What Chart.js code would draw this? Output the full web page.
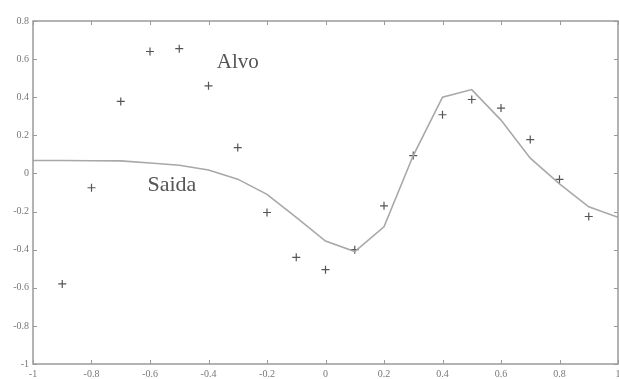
<!DOCTYPE html>
<html>
<head>
<meta charset="utf-8">
<script src="https://cdn.jsdelivr.net/npm/chart.js@4"></script>
<style>
  html, body { margin: 0; padding: 0; background: #fff; }
  #wrap { width: 619px; height: 379px; }
</style>
</head>
<body>
<div id="wrap"><canvas id="plot"></canvas></div>
<script>
// x positions of the samples
const xs = [-1, -0.9, -0.8, -0.7, -0.6, -0.5, -0.4, -0.3, -0.2, -0.1, 0,
            0.1, 0.2, 0.3, 0.4, 0.5, 0.6, 0.7, 0.8, 0.9, 1];

// target samples (Alvo), -0.9 .. 0.9
const alvoX = xs.slice(1, 20);
const alvoY = [-0.58, -0.075, 0.378, 0.64, 0.655, 0.46, 0.136, -0.205, -0.44, -0.505,
               -0.40, -0.17, 0.094, 0.308, 0.388, 0.343, 0.178, -0.031, -0.226];

// network output (Saida)
const saidaY = [0.068, 0.068, 0.067, 0.066, 0.055, 0.043, 0.018, -0.03, -0.11, -0.23, -0.355,
                -0.41, -0.28, 0.094, 0.40, 0.44, 0.28, 0.08, -0.055, -0.175, -0.23];

const xTicks = ["-1", "-0.8", "-0.6", "-0.4", "-0.2", "0", "0.2", "0.4", "0.6", "0.8", "1"];
const yTicks = ["-1", "-0.8", "-0.6", "-0.4", "-0.2", "0", "0.2", "0.4", "0.6", "0.8"];

const labels = [
  { text: "Alvo", x: -0.30, y: 0.58, size: 21 },
  { text: "Saida", x: -0.525, y: -0.06, size: 22 }
];

const serif = "'Liberation Serif', 'DejaVu Serif', serif";
const axisColor = "#9a9a9a";

// box around the plot with inward tick marks, plus the text annotations
const boxPlugin = {
  id: "box",
  afterDraw(chart) {
    const { ctx, chartArea: a, scales: { x, y } } = chart;
    ctx.save();
    ctx.strokeStyle = axisColor;
    ctx.lineWidth = 1.5;
    ctx.strokeRect(a.left, a.top, a.right - a.left, a.bottom - a.top);

    ctx.lineWidth = 1;
    const t = 4;
    x.ticks.forEach(tk => {
      const px = Math.round(x.getPixelForValue(tk.value)) + 0.5;
      ctx.beginPath();
      ctx.moveTo(px, a.bottom); ctx.lineTo(px, a.bottom - t);
      ctx.moveTo(px, a.top); ctx.lineTo(px, a.top + t);
      ctx.stroke();
    });
    y.ticks.forEach(tk => {
      const py = Math.round(y.getPixelForValue(tk.value)) + 0.5;
      ctx.beginPath();
      ctx.moveTo(a.left, py); ctx.lineTo(a.left + t, py);
      ctx.moveTo(a.right, py); ctx.lineTo(a.right - t, py);
      ctx.stroke();
    });

    ctx.fillStyle = "#555";
    ctx.textAlign = "center";
    ctx.textBaseline = "middle";
    labels.forEach(l => {
      ctx.font = l.size + "px " + serif;
      ctx.fillText(l.text, x.getPixelForValue(l.x), y.getPixelForValue(l.y));
    });
    ctx.restore();
  }
};

new Chart(document.getElementById("plot"), {
  type: "scatter",
  data: {
    datasets: [
      {
        label: "Saida",
        type: "line",
        data: xs.map((v, i) => ({ x: v, y: saidaY[i] })),
        borderColor: "#a8a8a8",
        borderWidth: 1.6,
        pointRadius: 0,
        tension: 0,
        fill: false
      },
      {
        label: "Alvo",
        data: alvoX.map((v, i) => ({ x: v, y: alvoY[i] })),
        pointStyle: "cross",
        pointRadius: 4,
        borderColor: "#555",
        borderWidth: 1.2,
        backgroundColor: "#555"
      }
    ]
  },
  options: {
    responsive: true,
    maintainAspectRatio: false,
    animation: false,
    layout: { autoPadding: false, padding: { top: 21, right: 1, left: 0, bottom: 0 } },
    plugins: {
      legend: { display: false },
      tooltip: { enabled: false }
    },
    scales: {
      x: {
        type: "linear",
        min: -1,
        max: 1,
        grid: { display: false, drawTicks: false },
        border: { display: false },
        // keep the end labels from pulling the plot edges inwards
        afterFit(s) { s.height = 15; s.paddingLeft = 0; s.paddingRight = 0; },
        ticks: {
          stepSize: 0.2,
          padding: 4,
          color: "#777",
          font: { family: serif, size: 10 },
          callback: (v, i) => xTicks[i]
        }
      },
      y: {
        min: -1,
        max: 0.8,
        grid: { display: false, drawTicks: false },
        border: { display: false },
        afterFit(s) { s.width = 33; s.paddingTop = 0; s.paddingBottom = 0; },
        ticks: {
          stepSize: 0.2,
          padding: 4,
          color: "#777",
          font: { family: serif, size: 10 },
          callback: (v, i) => yTicks[i]
        }
      }
    }
  },
  plugins: [boxPlugin]
});
</script>
</body>
</html>
